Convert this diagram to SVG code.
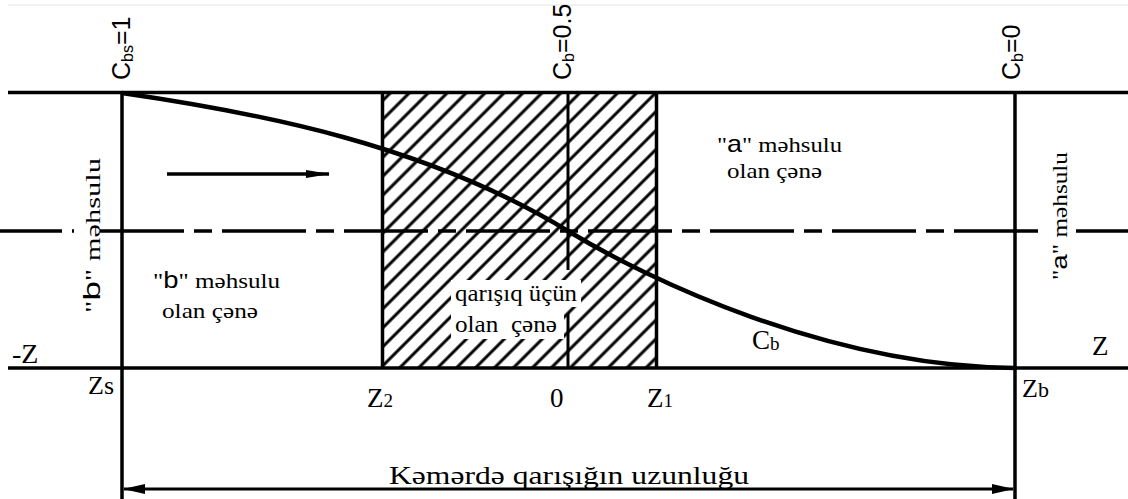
<svg xmlns="http://www.w3.org/2000/svg" width="1128" height="499" viewBox="0 0 1128 499">
<style>
.ln{stroke:#000;stroke-width:3.5;fill:none}
.thin{stroke:#000;stroke-width:3;fill:none}
.serif{font-family:"Liberation Serif","DejaVu Serif","Times New Roman",serif;fill:#000}
.sans{font-family:"Liberation Sans",Arial,sans-serif;fill:#000}
</style>
<defs>
<pattern id="hatch" patternUnits="userSpaceOnUse" width="13.4" height="13.4" patternTransform="rotate(45)">
<line x1="6.7" y1="-1" x2="6.7" y2="14.4" stroke="#000" stroke-width="3"/>
</pattern>
<marker id="flowHead" markerUnits="userSpaceOnUse" viewBox="0 0 24 10" refX="23" refY="5" markerWidth="24" markerHeight="10" orient="auto">
<path d="M0,1 L24,5 L0,9 Z" fill="#000"/>
</marker>
<marker id="dimHead" markerUnits="userSpaceOnUse" viewBox="0 0 22 12" refX="21" refY="6" markerWidth="22" markerHeight="12" orient="auto-start-reverse">
<path d="M0,1 L22,6 L0,11 Z" fill="#000"/>
</marker>
</defs>
<rect x="0" y="0" width="1128" height="499" fill="#fff"/>
<line x1="8" y1="5" x2="1128" y2="5" stroke="#e2e2e2" stroke-width="1"/>

<g id="mixing-zone">
<rect x="382" y="93" width="275" height="275" fill="url(#hatch)"/>
<rect x="451" y="280" width="130" height="27" fill="#fff"/>
<rect x="451" y="307" width="113" height="32" fill="#fff"/>
<line x1="382.5" y1="93" x2="382.5" y2="368" class="ln"/>
<line x1="656.5" y1="93" x2="656.5" y2="368" class="ln"/>
<line x1="568" y1="93" x2="568" y2="270" class="thin"/>
<line x1="568" y1="313" x2="568" y2="368" class="thin"/>
<text class="serif" font-size="23" x="455" y="301" textLength="122" lengthAdjust="spacingAndGlyphs">qarışıq üçün</text>
<text class="serif" font-size="23" x="455" y="332" textLength="102" lengthAdjust="spacingAndGlyphs" xml:space="preserve">olan  çənə</text>
</g>

<g id="frame">
<line x1="8" y1="92.5" x2="1128" y2="92.5" class="ln"/>
<line x1="8" y1="368" x2="1128" y2="368" class="ln"/>
<line x1="-22" y1="231" x2="1128" y2="231" stroke="#000" stroke-width="3.5" stroke-dasharray="84 10 18 10"/>
<rect x="74" y="226" width="24" height="10" fill="#fff"/>
<rect x="1039" y="226" width="37" height="10" fill="#fff"/>
<line x1="122" y1="91" x2="122" y2="499" class="ln"/>
<line x1="1015" y1="91" x2="1015" y2="499" class="ln"/>
</g>

<g id="connectors">
<path d="M122,93 C260,113 427,145 568,231 C647,279 830,367 1015,368" stroke="#000" stroke-width="4.5" fill="none"/>
<line x1="167" y1="174" x2="329" y2="174" stroke="#000" stroke-width="3.5" marker-end="url(#flowHead)"/>
<line x1="124" y1="489" x2="1013" y2="489" stroke="#000" stroke-width="3" marker-start="url(#dimHead)" marker-end="url(#dimHead)"/>
</g>

<g id="top-labels">
<text class="sans" font-size="25" transform="translate(130,80) rotate(-90)">C<tspan font-size="16" dy="3">bs</tspan><tspan dy="-3">=1</tspan></text>
<text class="sans" font-size="25" transform="translate(571,80) rotate(-90)">C<tspan font-size="16" dy="3">b</tspan><tspan dy="-3">=0.5</tspan></text>
<text class="sans" font-size="25" transform="translate(1020,80) rotate(-90)">C<tspan font-size="16" dy="3">b</tspan><tspan dy="-3">=0</tspan></text>
</g>

<g id="zone-b">
<text class="serif" font-size="22" x="153" y="288" textLength="127" lengthAdjust="spacingAndGlyphs">"<tspan class="sans" font-size="24">b</tspan>" məhsulu</text>
<text class="serif" font-size="22" x="162" y="318" textLength="96" lengthAdjust="spacingAndGlyphs">olan çənə</text>
<text class="serif" font-size="21" transform="translate(100,313) rotate(-90)" textLength="155" lengthAdjust="spacingAndGlyphs">"<tspan class="sans" font-size="24">b</tspan>" məhsulu</text>
</g>

<g id="zone-a">
<text class="serif" font-size="22" x="717" y="152" textLength="125" lengthAdjust="spacingAndGlyphs">"<tspan class="sans" font-size="24">a</tspan>" məhsulu</text>
<text class="serif" font-size="22" x="727" y="178" textLength="95" lengthAdjust="spacingAndGlyphs">olan çənə</text>
<text class="serif" font-size="20" transform="translate(1067,280) rotate(-90)" textLength="128" lengthAdjust="spacingAndGlyphs">"<tspan class="sans" font-size="22">a</tspan>" məhsulu</text>
</g>

<g id="axis-labels">
<text class="serif" font-size="27" x="752" y="349">C<tspan font-size="19" dy="1">b</tspan></text>
<text class="serif" font-size="28" x="12" y="363">-Z</text>
<text class="serif" font-size="27" x="1092" y="355">Z</text>
<text class="serif" font-size="26" x="88" y="394">Zs</text>
<text class="serif" font-size="27" x="367" y="407">Z<tspan font-size="19">2</tspan></text>
<text class="serif" font-size="27" x="550" y="407">0</text>
<text class="serif" font-size="27" x="647" y="407">Z<tspan font-size="19">1</tspan></text>
<text class="serif" font-size="26" x="1022" y="397">Z<tspan font-size="22">b</tspan></text>
<text class="serif" font-size="26" x="389" y="484" textLength="360" lengthAdjust="spacingAndGlyphs">Kəmərdə qarışığın uzunluğu</text>
</g>
</svg>
